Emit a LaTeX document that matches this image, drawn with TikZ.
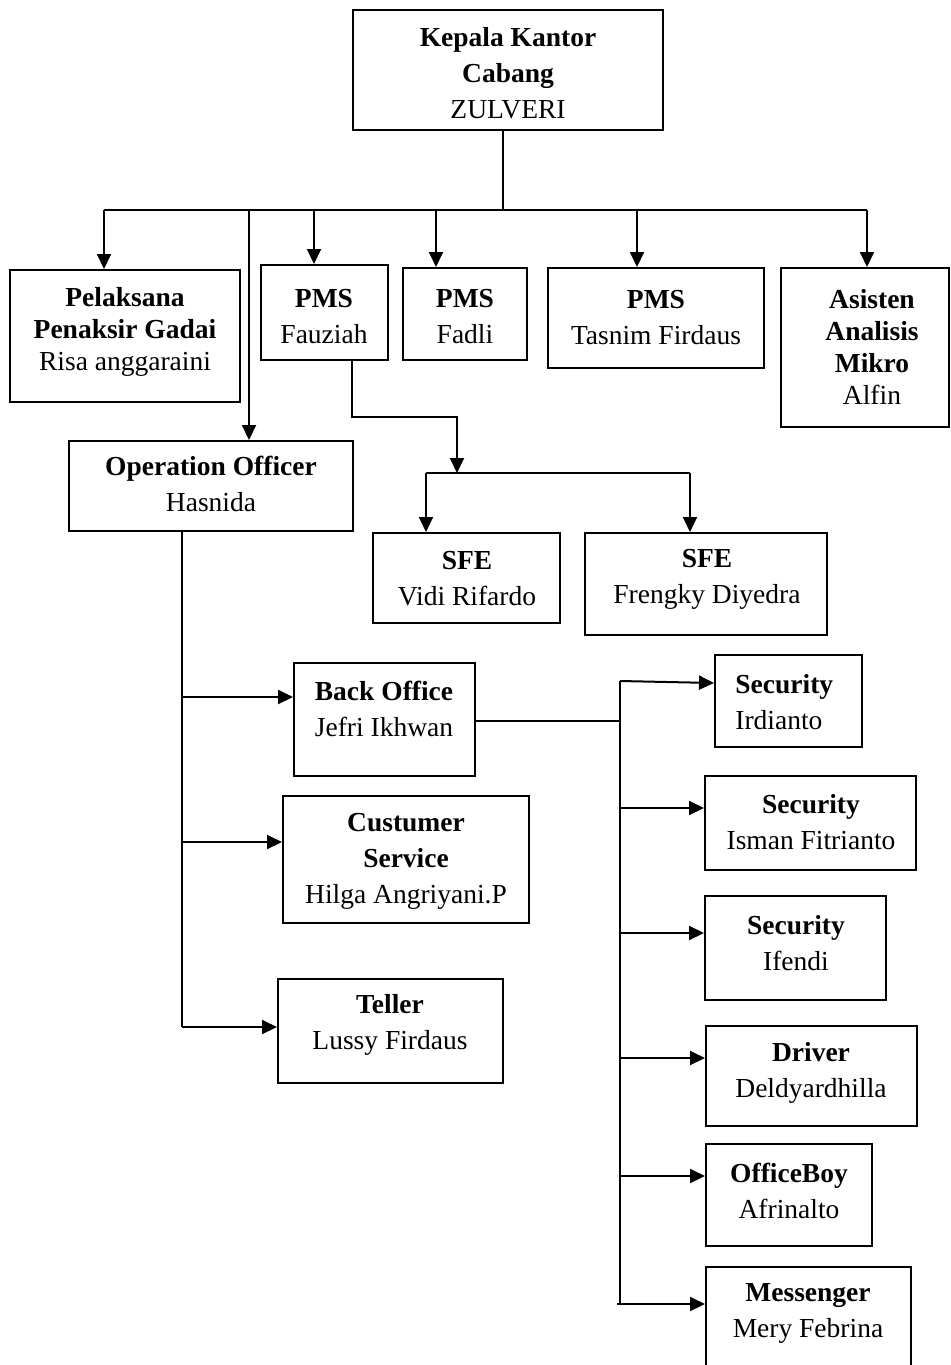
\documentclass[tikz,border=0pt]{standalone}
\usepackage{fontspec}
\setmainfont{Liberation Serif}
\usetikzlibrary{arrows.meta}
\tikzset{
  orgbox/.style={draw, line width=1pt, inner sep=0pt, fill=none},
  txt/.style={align=center, inner sep=0pt, font=\fontsize{13.75}{18}\selectfont},
  txtn/.style={align=center, inner sep=0pt, font=\fontsize{13.75}{16}\selectfont},
  conn/.style={line width=1pt},
  arr/.style={line width=1pt, -{Triangle[length=7.5pt,width=7pt]}}
}
\newcommand\obox[5]{%
  \pgfmathsetmacro\bw{(#4-#2)*0.5}%
  \pgfmathsetmacro\bh{(#5-#3)*0.5}%
  \node[orgbox, minimum width=\bw pt, minimum height=\bh pt] (#1) at ({(#2+#4)/2},{(#3+#5)/2}) {};}
\begin{document}
\begin{tikzpicture}[x=0.5pt,y=-0.5pt]
\useasboundingbox (0,0) rectangle (951,1365);
% boxes
\obox{top}{353}{10}{663}{130}
\obox{pel}{10}{270}{240}{402}
\obox{fau}{261}{265}{388}{360}
\obox{fad}{403}{268}{527}{360}
\obox{tas}{548}{268}{764}{368}
\obox{asi}{781}{268}{949}{427}
\obox{ops}{69}{441}{353}{531}
\obox{sfea}{373}{533}{560}{623}
\obox{sfeb}{585}{533}{827}{635}
\obox{back}{294}{663}{475}{776}
\obox{cus}{283}{796}{529}{923}
\obox{tel}{278}{979}{503}{1083}
\obox{seca}{715}{655}{862}{747}
\obox{secb}{705}{776}{916}{870}
\obox{secc}{705}{896}{886}{1000}
\obox{drv}{706}{1026}{917}{1126}
\obox{ofb}{706}{1144}{872}{1246}
\obox{msg}{706}{1267}{911}{1390}
% texts
\node[txt] (ttop) at (508,73) {\textbf{Kepala Kantor}\\\textbf{Cabang}\\ZULVERI};
\node[txtn] (tpel) at (125,332) {\textbf{Pelaksana}\\\textbf{Penaksir Gadai}\\Risa anggaraini};
\node[txt] (tfau) at (324,317) {\textbf{PMS}\\Fauziah};
\node[txt] (tfad) at (465,317) {\textbf{PMS}\\Fadli};
\node[txt] (ttas) at (656,318) {\textbf{PMS}\\Tasnim Firdaus};
\node[txtn] (tasi) at (872,347) {\textbf{Asisten}\\\textbf{Analisis}\\\textbf{Mikro}\\Alfin};
\node[txt] (tops) at (211,484) {\textbf{Operation Officer}\\Hasnida};
\node[txt] (tsfea) at (467,579) {\textbf{SFE}\\Vidi Rifardo};
\node[txt] (tsfeb) at (707,579) {\textbf{SFE}\\Frengky Diyedra};
\node[txt] (tback) at (384,709) {\textbf{Back Office}\\Jefri Ikhwan};
\node[txt] (tcus) at (406,861) {\textbf{Custumer}\\\textbf{Service}\\Hilga Angriyani.P};
\node[txt] (ttel) at (390,1025) {\textbf{Teller}\\Lussy Firdaus};
\node[txt, align=left, anchor=west] (tseca) at (735,702) {\textbf{Security}\\Irdianto};
\node[txt] (tsecb) at (811,822) {\textbf{Security}\\Isman Fitrianto};
\node[txt] (tsecc) at (796,943) {\textbf{Security}\\Ifendi};
\node[txt] (tdrv) at (811,1073) {\textbf{Driver}\\Deldyardhilla};
\node[txt] (tofb) at (789,1191) {\textbf{OfficeBoy}\\Afrinalto};
\node[txt] (tmsg) at (808,1313) {\textbf{Messenger}\\Mery Febrina};
% connectors
\coordinate (bus) at (503,210);
\coordinate (busL) at (104,210);
\coordinate (busR) at (867,210);
\draw[conn] (top.south -| bus) -- (bus);
\draw[conn] (busL) -- (busR);
\draw[arr] (busL) -- (busL |- pel.north);
\draw[arr] (314,210) -- (314,0 |- fau.north);
\draw[arr] (436,210) -- (436,0 |- fad.north);
\draw[arr] (637,210) -- (637,0 |- tas.north);
\draw[arr] (busR) -- (busR |- asi.north);
\draw[arr] (249,210) -- (249,0 |- ops.north);
% Fauziah to SFE
\coordinate (sfebus) at (457,473);
\draw[arr] (fau.south -| 352,0) -- (352,417) -- (457,417) -- (sfebus);
\draw[conn] (426,473) -- (690,473);
\draw[arr] (426,473) -- (426,0 |- sfea.north);
\draw[arr] (690,473) -- (690,0 |- sfeb.north);
% Operation officer
\draw[conn] (ops.south -| 182,0) -- (182,1027);
\draw[arr] (182,697) -- (back.west |- 0,697);
\draw[arr] (182,842) -- (cus.west |- 0,842);
\draw[arr] (182,1027) -- (tel.west |- 0,1027);
% Back office to support staff
\coordinate (vtop) at (620,681);
\draw[conn] (back.east |- 0,721) -- (620,721);
\draw[conn] (vtop) -- (620,1304);
\draw[arr] (vtop) -- (seca.west |- 0,683);
\draw[arr] (620,808) -- (secb.west |- 0,808);
\draw[arr] (620,933) -- (secc.west |- 0,933);
\draw[arr] (620,1058) -- (drv.west |- 0,1058);
\draw[arr] (620,1176) -- (ofb.west |- 0,1176);
\draw[arr] (617,1304) -- (msg.west |- 0,1304);
\end{tikzpicture}
\end{document}
